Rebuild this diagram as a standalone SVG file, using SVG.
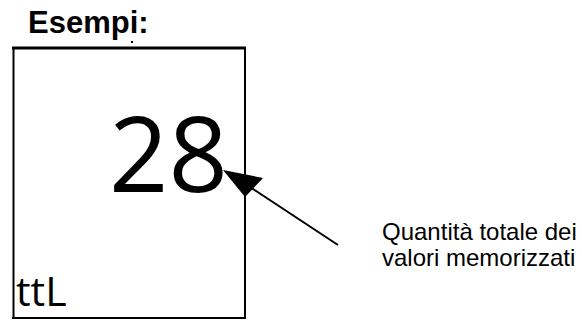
<svg xmlns="http://www.w3.org/2000/svg" width="582" height="320" viewBox="0 0 582 320">
<style>
.title{font-family:"Liberation Sans",Arial,sans-serif;font-weight:bold;font-size:31px;fill:#000}
.big{font-family:"Open Sans",sans-serif;fill:#000}
.lbl{font-family:"Liberation Sans",Arial,sans-serif;font-size:24px;fill:#000}
.ln{stroke:#000;fill:none}
</style>
<text class="title" x="28" y="33">Esempi:</text>
<g id="box">
<line class="ln" x1="12" y1="48" x2="246" y2="48" stroke-width="3"/>
<line class="ln" x1="13.5" y1="48" x2="13.5" y2="318" stroke-width="2"/>
<line class="ln" x1="245" y1="48" x2="245" y2="318" stroke-width="2"/>
<line class="ln" x1="12" y1="318" x2="246" y2="318" stroke-width="2"/>
<rect x="131" y="41" width="2" height="2" fill="#000"/>
<text class="big" x="109" y="192" font-size="104">28</text>
<text class="big" x="16" y="306" font-size="41">ttL</text>
</g>
<g id="connectors">
<line class="ln" x1="338" y1="245" x2="250" y2="187" stroke-width="2"/>
<polygon points="223,170 263,178 245,197" fill="#000"/>
</g>
<g id="label">
<text class="lbl" x="382" y="240">Quantità totale dei</text>
<text class="lbl" x="382" y="266">valori memorizzati</text>
</g>
</svg>
